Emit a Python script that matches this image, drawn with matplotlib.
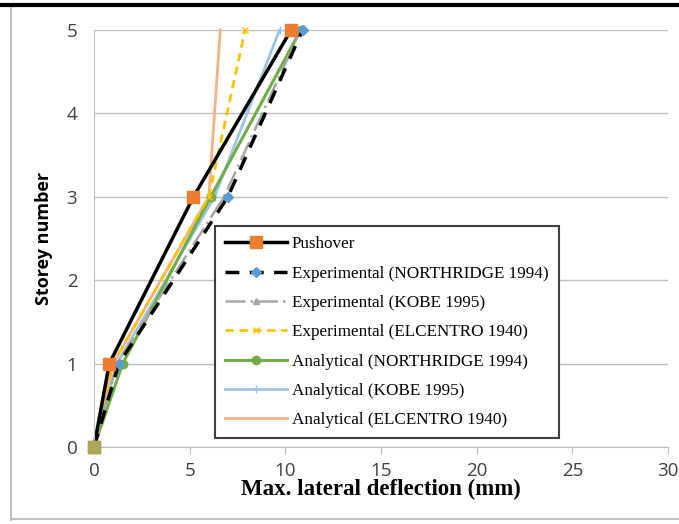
import numpy as np
import matplotlib
matplotlib.use("Agg")
import matplotlib.pyplot as plt
from matplotlib.lines import Line2D

storey = [0, 1, 3, 5]
pushover = [0, 0.8, 5.2, 10.3]
exp_northridge = [0, 1.3, 7.0, 10.9]
exp_kobe = [0, 1.2, 6.8, 10.8]
exp_elcentro = [0, 1.0, 6.0, 7.9]
ana_northridge = [0, 1.5, 6.1, 10.8]
ana_kobe = [0, 1.2, 6.3, 9.7]
ana_elcentro = [0, 1.0, 6.0, 6.6]

labels = ["Pushover", "Experimental (NORTHRIDGE 1994)", "Experimental (KOBE 1995)",
          "Experimental (ELCENTRO 1940)", "Analytical (NORTHRIDGE 1994)",
          "Analytical (KOBE 1995)", "Analytical (ELCENTRO 1940)"]

fig = plt.figure(figsize=(6.79, 5.24), dpi=100)
ax = fig.add_axes([0.1384, 0.147, 0.8454, 0.7957])

# draw order: lighter analytical lines under the experimental ones
kw = dict(clip_on=False)
h = [None] * 7
h[6], = ax.plot(ana_elcentro, storey, color="#F4B183", lw=2, **kw)
h[5], = ax.plot(ana_kobe, storey, color="#9DC3E6", lw=2, marker="+", ms=6, mew=1, **kw)
h[4], = ax.plot(ana_northridge, storey, color="#70AD47", lw=2.2, marker="o", ms=6, **kw)
h[3], = ax.plot(exp_elcentro, storey, color="#FFC000", lw=2, ls=(0, (3, 2)), marker="x",
                ms=5, **kw)
h[2], = ax.plot(exp_kobe, storey, color="#A5A5A5", lw=1.8, ls=(0, (8, 2, 1, 2)),
                marker="^", ms=5, **kw)
h[1], = ax.plot(exp_northridge, storey, color="black", lw=2.5, ls=(0, (4, 3)),
                marker="D", ms=5, mfc="#5B9BD5", mec="#5B9BD5", **kw)
h[0], = ax.plot(pushover, storey, color="black", lw=2.5, marker="s", ms=8,
                mfc="#ED7D31", mec="#ED7D31", **kw)
# origin marker shows as a mixed olive square
ax.plot([0], [0], marker="s", ms=8, color="#A9A857", ls="none", clip_on=False, zorder=5)

ax.set_xlim(0, 30)
ax.set_ylim(0, 5)
ax.set_xticks(range(0, 31, 5))
ax.set_yticks(range(0, 6))
ax.grid(axis="y", color="#BFBFBF", lw=1)
ax.set_axisbelow(True)
for s in ["top", "right"]:
    ax.spines[s].set_visible(False)
for s in ["left", "bottom"]:
    ax.spines[s].set_color("#BFBFBF")
ax.tick_params(axis="y", length=0, labelsize=13.5, labelcolor="#404040", pad=12)
ax.tick_params(axis="x", length=5, color="#BFBFBF", labelsize=13.5, labelcolor="#404040",
               pad=6)
for t in ax.get_xticklabels() + ax.get_yticklabels():
    t.set_family("Open Sans")

ax.set_ylabel("Storey number", fontsize=13, fontweight="bold", family="Open Sans",
              labelpad=10)
ax.set_xlabel("Max. lateral deflection (mm)", fontsize=16.5, fontweight="bold",
              family="Liberation Serif", labelpad=-1)

leg = ax.legend(h, labels, loc="lower left", bbox_to_anchor=(0.196, 0.0),
                prop={"family": "Liberation Serif", "size": 12.3}, frameon=True,
                fancybox=False, edgecolor="#404040", handlelength=3.6,
                labelspacing=0.78, borderpad=0.6, handletextpad=0.3, framealpha=1)
leg.get_frame().set_linewidth(1.5)

# page frame lines
fig.add_artist(Line2D([0, 1], [0.99, 0.99], color="black", lw=3, transform=fig.transFigure))
fig.add_artist(Line2D([0.016, 0.016], [0.008, 0.985], color="#BFBFBF", lw=1.5,
                      transform=fig.transFigure))
fig.add_artist(Line2D([0.016, 1], [0.01, 0.01], color="#BFBFBF", lw=1.5,
                      transform=fig.transFigure))

fig.savefig("out.png", dpi=100)
